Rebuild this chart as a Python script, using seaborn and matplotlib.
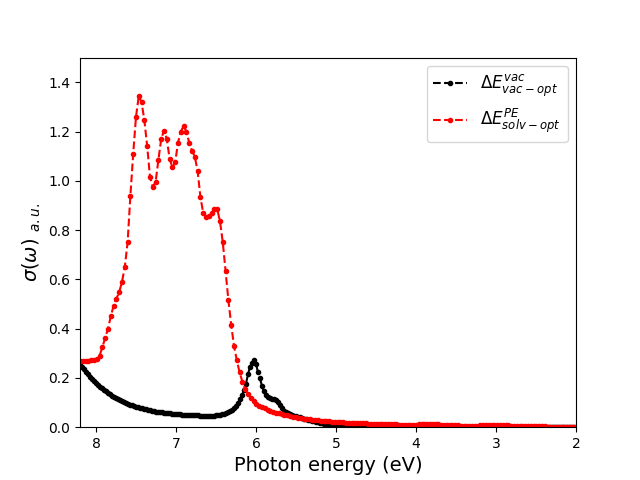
import numpy as np
import matplotlib
matplotlib.use("Agg")
import matplotlib.pyplot as plt
import seaborn as sns

# ---- data ----
red_label = r'$\Delta E^{PE}_{solv-opt}$'
black_label = r'$\Delta E^{vac}_{vac-opt}$'

red_values = [
    0.270, 0.270, 0.270, 0.270, 0.272, 0.274, 0.277, 0.290, 0.325, 0.362,
    0.400, 0.450, 0.493, 0.522, 0.548, 0.590, 0.650, 0.750, 0.940, 1.110,
    1.260, 1.345, 1.318, 1.245, 1.140, 1.015, 0.975, 0.995, 1.085, 1.170,
    1.204, 1.170, 1.090, 1.054, 1.075, 1.155, 1.200, 1.222, 1.200, 1.155,
    1.122, 1.098, 1.040, 0.935, 0.870, 0.853, 0.858, 0.870, 0.885, 0.886,
    0.835, 0.750, 0.632, 0.515, 0.415, 0.330, 0.272, 0.222, 0.185, 0.157,
    0.135, 0.118, 0.105, 0.096, 0.088, 0.082, 0.076, 0.071, 0.066, 0.062,
    0.059, 0.056, 0.053, 0.050, 0.048, 0.045, 0.043, 0.041, 0.039, 0.037,
    0.035, 0.034, 0.032, 0.031, 0.030, 0.028, 0.027, 0.026, 0.025, 0.024,
    0.023, 0.022, 0.022, 0.021, 0.020, 0.019, 0.019, 0.018, 0.018, 0.018,
    0.017, 0.017, 0.016, 0.015, 0.015, 0.014, 0.014, 0.014, 0.014, 0.013,
    0.013, 0.013, 0.012, 0.011, 0.010, 0.010, 0.010, 0.010, 0.010, 0.010,
    0.010, 0.011, 0.013, 0.014, 0.015, 0.015, 0.014, 0.013, 0.011, 0.010,
    0.010, 0.010, 0.010, 0.009, 0.009, 0.008, 0.006, 0.005, 0.005, 0.005,
    0.005, 0.005, 0.006, 0.008, 0.009, 0.009, 0.009, 0.009, 0.009, 0.009,
    0.009, 0.008, 0.008, 0.007, 0.006, 0.005, 0.005, 0.005, 0.005, 0.005,
    0.005, 0.005, 0.005, 0.004, 0.003, 0.003, 0.003, 0.002, 0.002, 0.002,
    0.002, 0.002, 0.002, 0.002, 0.002, 0.002, 0.002, 0.002,
]

black_values = [
    0.254, 0.245, 0.235, 0.225, 0.215, 0.205, 0.196, 0.188, 0.180, 0.172,
    0.165, 0.158, 0.151, 0.145, 0.139, 0.133, 0.128, 0.123, 0.118, 0.113,
    0.109, 0.105, 0.101, 0.098, 0.095, 0.092, 0.089, 0.086, 0.083, 0.080,
    0.078, 0.076, 0.074, 0.072, 0.070, 0.068, 0.066, 0.065, 0.063, 0.062,
    0.061, 0.060, 0.059, 0.058, 0.057, 0.056, 0.055, 0.054, 0.053, 0.052,
    0.052, 0.051, 0.051, 0.050, 0.050, 0.049, 0.049, 0.048, 0.048, 0.048,
    0.047, 0.047, 0.047, 0.047, 0.047, 0.047, 0.047, 0.047, 0.048, 0.049,
    0.050, 0.052, 0.054, 0.057, 0.060, 0.065, 0.071, 0.079, 0.088, 0.099,
    0.113, 0.130, 0.150, 0.177, 0.215, 0.245, 0.262, 0.272, 0.258, 0.222,
    0.198, 0.166, 0.145, 0.130, 0.124, 0.119, 0.116, 0.113, 0.109, 0.102,
    0.090, 0.078, 0.067, 0.060, 0.056, 0.052, 0.049, 0.047, 0.045, 0.042,
    0.040, 0.037, 0.035, 0.032, 0.030, 0.028, 0.026, 0.024, 0.022, 0.020,
    0.018, 0.016, 0.015, 0.013, 0.012, 0.011, 0.010, 0.009, 0.008,
    0.007, 0.007, 0.006, 0.006, 0.006, 0.005, 0.005, 0.005, 0.005, 0.004,
    0.004, 0.004, 0.004, 0.004, 0.004, 0.004, 0.003, 0.003, 0.003, 0.003,
    0.003, 0.003, 0.003, 0.003, 0.003, 0.003, 0.003, 0.003, 0.003, 0.003,
    0.003, 0.003, 0.002, 0.002, 0.002, 0.002, 0.002, 0.002, 0.002, 0.002,
    0.002, 0.002, 0.002, 0.002, 0.002, 0.002, 0.002, 0.002, 0.002, 0.002,
    0.002, 0.002, 0.002, 0.002, 0.002, 0.002, 0.002, 0.002, 0.002, 0.002,
    0.002, 0.002, 0.002, 0.002, 0.002, 0.002, 0.002, 0.002, 0.002, 0.002,
    0.002, 0.002, 0.001, 0.001, 0.001, 0.001, 0.001, 0.001, 0.001, 0.001,
    0.001, 0.001, 0.001, 0.001, 0.001, 0.001, 0.001, 0.001, 0.001, 0.001,
    0.001, 0.001, 0.001, 0.001, 0.001, 0.001, 0.001, 0.001, 0.001, 0.001,
    0.001, 0.001, 0.001, 0.001, 0.001, 0.001, 0.001, 0.001, 0.001, 0.001,
    0.001, 0.001, 0.001, 0.001, 0.001, 0.001, 0.001, 0.001, 0.001,
]

# photon-energy grids of the two spectra (eV), from high to low energy
red_energy = 8.2 - 0.035 * np.arange(len(red_values))
black_energy = 8.2 - 0.025 * np.arange(len(black_values))

x_ticks = [8, 7, 6, 5, 4, 3, 2]
y_ticks = [0.0, 0.2, 0.4, 0.6, 0.8, 1.0, 1.2, 1.4]

# ---- plot ----
fig, ax = plt.subplots(figsize=(6.4, 4.8), dpi=100)

sns.lineplot(x=black_energy, y=black_values, ax=ax, color='black',
             linestyle='--', marker='.', markeredgecolor='black',
             markeredgewidth=1.0, linewidth=1.5, label=black_label,
             sort=False)
sns.lineplot(x=red_energy, y=red_values, ax=ax, color='red',
             linestyle='--', marker='.', markeredgecolor='red',
             markeredgewidth=1.0, linewidth=1.5, label=red_label,
             sort=False)

ax.set_xlim(8.2, 2.0)
ax.set_ylim(0, 1.5)
ax.set_xticks(x_ticks)
ax.set_xticklabels([str(t) for t in x_ticks])
ax.set_yticks(y_ticks)
ax.set_xlabel('Photon energy (eV)', fontsize=14)
ax.set_ylabel(r'$\sigma(\omega)$ $_{a.u.}$', fontsize=14)
ax.legend(loc='upper right', fontsize=12)

fig.savefig('out.png', dpi=100)
